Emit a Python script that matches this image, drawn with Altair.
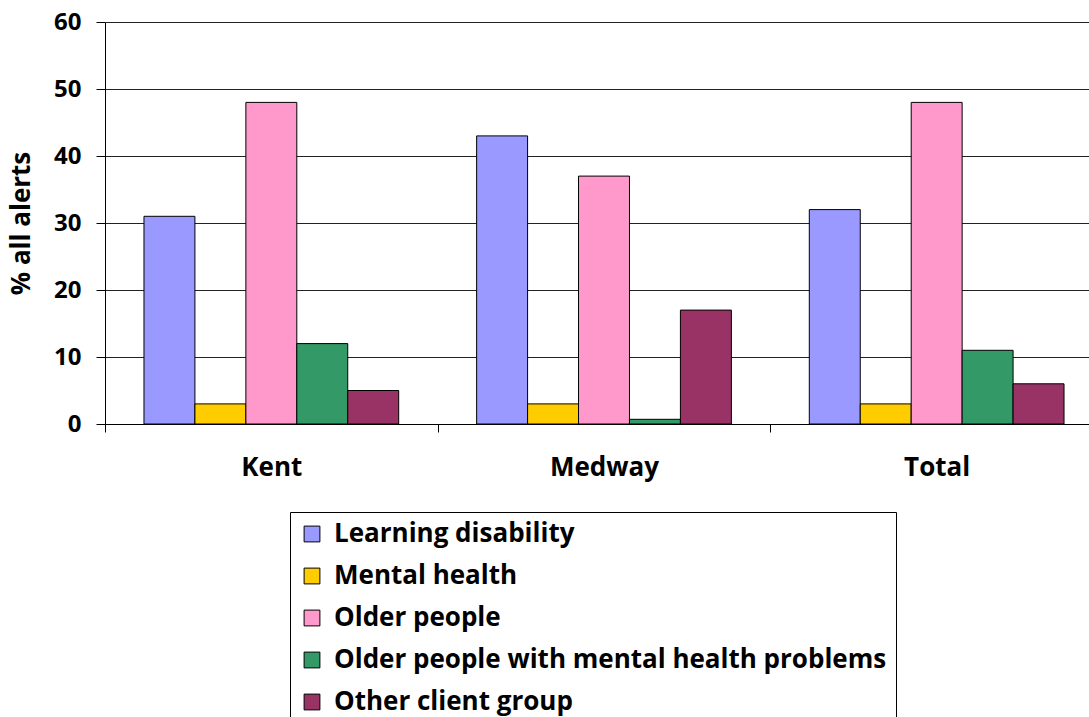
import altair as alt
import pandas as pd

regions = ["Kent", "Medway", "Total"]
groups = [
    "Learning disability",
    "Mental health",
    "Older people",
    "Older people with mental health problems",
    "Other client group",
]
kent = [31, 3, 48, 12, 5]
medway = [43, 3, 37, 0.7, 17]
total = [32, 3, 48, 11, 6]
colors = ["#9999FF", "#FFCC00", "#FF99CC", "#339966", "#993366"]
y_ticks = [0, 10, 20, 30, 40, 50, 60]

rows = []
for r, vals in zip(regions, [kent, medway, total]):
    for g, v in zip(groups, vals):
        rows.append({"region": r, "group": g, "value": v})
df = pd.DataFrame(rows)

FONT = "Open Sans"

chart = (
    alt.Chart(df)
    .mark_bar(stroke="black", strokeWidth=1)
    .encode(
        x=alt.X(
            "region:N",
            sort=regions,
            scale=alt.Scale(range=[0, 998], paddingInner=0, paddingOuter=0),
            axis=alt.Axis(
                title=None,
                labelAngle=0,
                tickBand="extent",
                grid=False,
                domainColor="black",
                tickColor="black",
                tickSize=8,
                labelPadding=22,
                labelFontSize=26,
                labelFontWeight="bold",
                labelFont=FONT,
                labelColor="black",
            ),
        ),
        xOffset=alt.XOffset(
            "group:N",
            sort=groups,
            scale=alt.Scale(paddingInner=0, paddingOuter=0.765),
        ),
        y=alt.Y(
            "value:Q",
            scale=alt.Scale(domain=[0, 60], nice=False),
            axis=alt.Axis(
                values=y_ticks,
                title="% all alerts",
                titleFont=FONT,
                titleFontSize=26,
                titleFontWeight="bold",
                titleColor="black",
                titlePadding=19,
                labelFont=FONT,
                labelFontSize=24,
                labelFontWeight="bold",
                labelColor="black",
                labelPadding=15,
                tickSize=9,
                tickColor="black",
                domainColor="black",
                grid=True,
                gridColor="#222222",
                gridWidth=1,
            ),
        ),
        color=alt.Color(
            "group:N",
            sort=groups,
            scale=alt.Scale(domain=groups, range=colors),
            legend=alt.Legend(
                title=None,
                orient="none",
                legendX=185,
                legendY=490,
                strokeColor="black",
                fillColor="white",
                padding=9,
                symbolType="square",
                symbolSize=250,
                symbolStrokeColor="black",
                symbolStrokeWidth=1,
                labelFont=FONT,
                labelFontSize=26,
                labelFontWeight="bold",
                labelColor="black",
                labelLimit=0,
                labelOffset=9,
                rowPadding=16,
            ),
        ),
    )
    .properties(
        width=984,
        height=402,
        autosize=alt.AutoSizeParams(type="none"),
        padding={"left": 105, "top": 22, "right": 0, "bottom": 293},
    )
    .configure_view(stroke=None)
)

chart.save("out.html", embed_options={"renderer": "svg", "actions": False})
